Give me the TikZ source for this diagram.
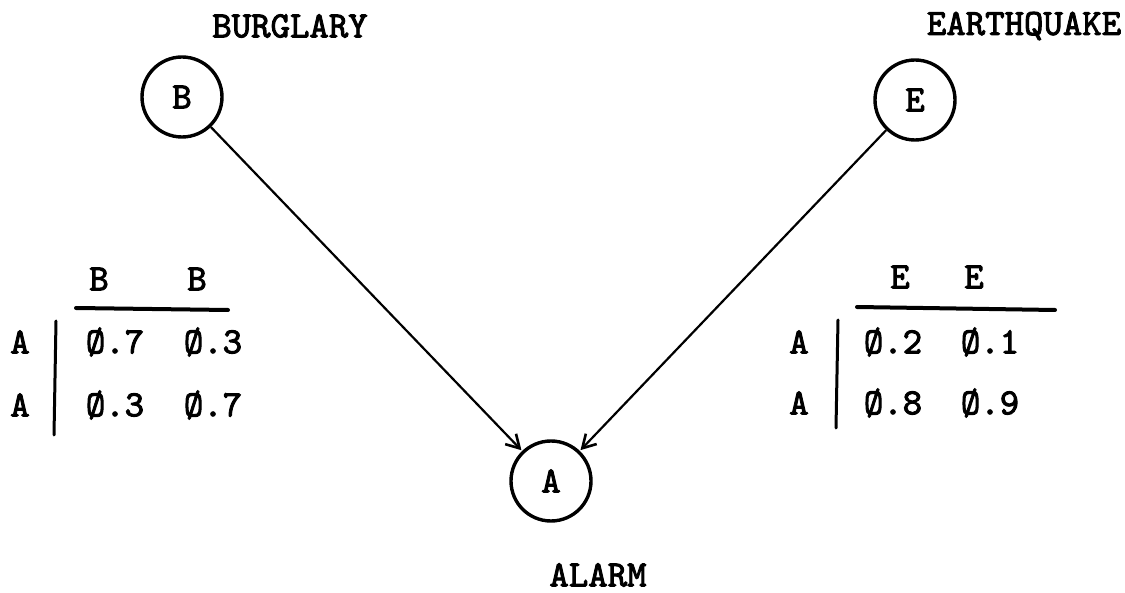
\documentclass[tikz,border=0pt]{standalone}
\usepackage{fontspec}
\newfontfamily\tw{lmmono10-regular.otf}[FakeBold=2.5]
\usetikzlibrary{arrows.meta}
\begin{document}
\begin{tikzpicture}[x=1pt,y=-1pt,
  txt/.style={font=\tw\fontsize{37}{40}\selectfont, inner sep=0pt},
  var/.style={circle, draw, line width=3.4pt, minimum size=80pt, inner sep=0pt, font=\tw\fontsize{37}{40}\selectfont},
  arr/.style={line width=2.2pt, -{Straight Barb[length=13pt,width=15pt,line width=2.6pt]}, shorten >=1pt},
  rule/.style={line width=4pt, line cap=round},
  vrule/.style={line width=3pt, line cap=round}]
\useasboundingbox (0,0) rectangle (1125,593);
% variables
\node[var] (B) at (182,97) {B};
\node[var] (E) at (915,100) {E};
\node[var] (A) at (551,481) {A};
\node[txt] (lb) at (290,26) {BURGLARY};
\node[txt] (le) at (1024,26) {EARTHQUAKE};
\node[txt] (la) at (598,575) {ALARM};
\draw[arr] (B) -- (A);
\draw[arr] (E) -- (A);
% left table
\node[txt] (bh1) at (99,279) {B};
\node[txt] (bh2) at (197,279) {B};
\node[txt] (ba1) at (20,342) {A};
\node[txt] (ba2) at (20,405) {A};
\node[txt] (b11) at (115,342) {Ø.7};
\node[txt] (b12) at (213,342) {Ø.3};
\node[txt] (b21) at (115,405) {Ø.3};
\node[txt] (b22) at (213,405) {Ø.7};
\coordinate (bl1) at (76,308);
\coordinate (bl2) at (228,310);
\coordinate (bv1) at (56,321);
\coordinate (bv2) at (54,435);
\draw[rule] (bl1) -- (bl2);
\draw[vrule] (bv1) -- (bv2);
% right table
\node[txt] (eh1) at (900,277) {E};
\node[txt] (eh2) at (974,277) {E};
\node[txt] (ea1) at (799,342) {A};
\node[txt] (ea2) at (799,403) {A};
\node[txt] (e11) at (893,342) {Ø.2};
\node[txt] (e12) at (990,342) {Ø.1};
\node[txt] (e21) at (893,403) {Ø.8};
\node[txt] (e22) at (990,403) {Ø.9};
\coordinate (el1) at (857,307);
\coordinate (el2) at (1055,310);
\coordinate (ev1) at (838,320);
\coordinate (ev2) at (836,428);
\draw[rule] (el1) -- (el2);
\draw[vrule] (ev1) -- (ev2);
\end{tikzpicture}
\end{document}
